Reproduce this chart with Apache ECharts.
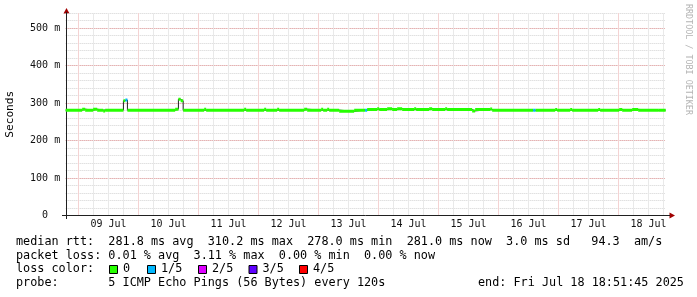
<!DOCTYPE html>
<html><head><meta charset="utf-8">
<script src="https://cdn.jsdelivr.net/npm/echarts@6/dist/echarts.min.js"></script>
<style>html,body{margin:0;padding:0;background:#fff}#c{width:697px;height:297px}</style>
</head><body><div id="c"></div>
<script>
// Time window: Jul 8 18:51:45 -> Jul 18 18:51:45 2025 (hours since Jul 8 00:00)
const START_HOUR = 18.8625;
const END_HOUR = 258.8625;
const dayLabels = ['09 Jul','10 Jul','11 Jul','12 Jul','13 Jul','14 Jul','15 Jul','16 Jul','17 Jul','18 Jul'];
const yTickLabels = ['0  ','100 m','200 m','300 m','400 m','500 m'];

// median RTT steps: start of each step (hours after window start), value (ms), lost pings (of 5)
const segStart = [0,6.6,7.8,11.0,12.6,15.0,15.8,23.1,23.9,24.7,43.8,45.1,46.0,47.0,55.4,56.2,71.4,72.2,79.4,80.2,
  84.6,85.4,95.4,96.6,102.2,103.0,104.6,105.4,109.4,115.4,119.8,120.6,124.6,125.4,128.6,130.6,132.6,134.6,139.4,140.2,
  145.4,146.6,151.8,152.6,162.6,163.8,169.8,170.6,187.0,188.0,195.8,196.6,201.8,202.6,213.0,213.8,221.4,222.6,226.6,229.0,237.0];
const segRtt = [281,283.5,281,283.5,281,278.5,281,306,308,281,283.5,310,306,281,283.5,281,283.5,281,283.5,281,
  283.5,281,283.5,281,283.5,281,283.5,281,278,281,281,282.5,285,282.5,285,282.5,285,282.5,285,282.5,
  285,282.5,285,282.5,279,282.5,284,280.5,280.5,280.5,283,280.5,283,280.5,283,280.5,283,280.5,283,280.5,281];
const segLoss = [0,0,0,0,0,0,0,0,1,0,0,0,0,0,0,0,0,0,0,0,
  0,0,0,0,0,0,0,0,0,0,1,0,0,0,0,0,0,0,0,0,
  0,0,0,0,0,0,0,0,1,0,0,0,0,0,0,0,0,0,0,0,0];

const lossColors = ['#26ff00','#00b8ff','#dd00ff','#5e00ff','#ff0000'];
const lossLabels = ['0','1/5','2/5','3/5','4/5'];

const legendLines = [
  'median rtt:  281.8 ms avg  310.2 ms max  278.0 ms min  281.0 ms now  3.0 ms sd   94.3  am/s',
  'packet loss: 0.01 % avg  3.11 % max  0.00 % min  0.00 % now',
  'loss color:',
  'probe:       5 ICMP Echo Pings (56 Bytes) every 120s'
];
const endText = 'end: Fri Jul 18 18:51:45 2025';

const toX = t => (START_HOUR + t) / 6;   // axis unit = 6 hours
const spanH = END_HOUR - START_HOUR;

const bands = segStart.map((s, i) => [toX(s), toX(i + 1 < segStart.length ? segStart[i + 1] : spanH), segRtt[i], segLoss[i]]);
const lineData = segStart.map((s, i) => [toX(s), segRtt[i]]);
lineData.push([toX(spanH), segRtt[segRtt.length - 1]]);

const MONO = '"DejaVu Sans Mono", monospace';
const grey = '#d2d2d2', red = '#e89a9a';

const chart = echarts.init(document.getElementById('c'), null, {renderer: 'canvas'});

const graphics = [];
const rowY = [241.7, 255.7, 269.3, 283.3];
legendLines.forEach((t, i) => graphics.push({type: 'text', x: 16, y: rowY[i], silent: true,
  style: {text: t, font: '11.8px ' + MONO, fill: '#000', align: 'left', verticalAlign: 'middle'}}));
graphics.push({type: 'text', x: 478, y: rowY[3], style: {text: endText, font: '11.8px ' + MONO, fill: '#000', align: 'left', verticalAlign: 'middle'}});
const swX = [109, 147, 198, 248.5, 299];
lossColors.forEach((c, i) => {
  graphics.push({type: 'rect', shape: {x: swX[i] + 0.5, y: 265.5, width: 8, height: 8}, style: {fill: c, stroke: '#000', lineWidth: 1}});
  graphics.push({type: 'text', x: swX[i] + 14, y: rowY[2], style: {text: lossLabels[i], font: '11.8px ' + MONO, fill: '#000', align: 'left', verticalAlign: 'middle'}});
});
// axis arrows and small extensions
graphics.push({type: 'polygon', shape: {points: [[66.5, 8], [63.5, 13.5], [69.5, 13.5]]}, style: {fill: '#a00000'}});
graphics.push({type: 'polygon', shape: {points: [[675, 215.5], [669.5, 212.5], [669.5, 218.5]]}, style: {fill: '#a00000'}});
graphics.push({type: 'line', shape: {x1: 665, y1: 215.5, x2: 670, y2: 215.5}, style: {stroke: '#202020', lineWidth: 1}});
graphics.push({type: 'line', shape: {x1: 62, y1: 215.5, x2: 66, y2: 215.5}, style: {stroke: '#202020', lineWidth: 1}});
graphics.push({type: 'line', shape: {x1: 66.5, y1: 215, x2: 66.5, y2: 219}, style: {stroke: '#202020', lineWidth: 1}});
graphics.push({type: 'line', shape: {x1: 66.5, y1: 12, x2: 66.5, y2: 14}, style: {stroke: '#202020', lineWidth: 1}});
graphics.push({type: 'text', x: 688.5, y: 4, rotation: -Math.PI / 2,
  style: {text: 'RRDTOOL / TOBI OETIKER', font: '8.4px ' + MONO, fill: '#b4b4b4', align: 'left', verticalAlign: 'middle'}});

chart.setOption({
  animation: false,
  backgroundColor: '#fff',
  grid: {left: 65.66, right: 31.34, top: 13, bottom: 81.5, containLabel: false, outerBoundsMode: 'none'},
  xAxis: [{
    type: 'value', min: toX(0), max: toX(spanH), splitNumber: 40, minInterval: 1, maxInterval: 1,
    axisLine: {show: true, onZero: false, lineStyle: {color: '#202020', width: 1}},
    axisTick: {show: false},
    axisLabel: {margin: 4, color: '#111', fontFamily: MONO, fontSize: 10,
      showMinLabel: true, showMaxLabel: true,
      formatter: v => (Math.abs(v - Math.round(v)) < 1e-6 && Math.round(v) % 4 === 2) ? (dayLabels[(Math.round(v) - 6) / 4] || '') : ''},
    splitLine: {show: true, showMinLine: false, showMaxLine: false,
      lineStyle: {color: '#e9e9e9', type: 'solid', width: 1}}
  }, {
    type: 'value', min: toX(0), max: toX(spanH), splitNumber: 10, minInterval: 4, maxInterval: 4,
    axisLine: {show: false}, axisTick: {show: false}, axisLabel: {show: false},
    splitLine: {show: true, showMinLine: false, showMaxLine: false,
      lineStyle: {color: '#f4d3d3', type: 'solid', width: 1}}
  }],
  yAxis: [{
    type: 'value', min: 0, max: 540, interval: 20, offset: -0.5,
    name: 'Seconds', nameLocation: 'middle', nameRotate: 90, nameGap: 51,
    nameTextStyle: {fontFamily: MONO, fontSize: 11.2, color: '#000'},
    axisLine: {show: true, lineStyle: {color: '#202020', width: 1}},
    axisTick: {show: false},
    axisLabel: {margin: 6, color: '#111', fontFamily: MONO, fontSize: 10,
      formatter: v => (v % 100 === 0) ? (yTickLabels[v / 100] || '') : ''},
    splitLine: {show: true, showMinLine: false, lineStyle: {color: grey, type: [1, 1], width: 1}}
  }, {
    type: 'value', min: 0, max: 540, interval: 100,
    axisLine: {show: false}, axisTick: {show: false}, axisLabel: {show: false},
    splitLine: {show: true, showMinLine: false, showMaxLine: false, lineStyle: {color: red, type: [1, 1], width: 1}}
  }],
  series: [{
    type: 'line', xAxisIndex: 0, yAxisIndex: 0, data: lineData, step: 'end',
    showSymbol: false, symbol: 'none', lineStyle: {color: '#202020', width: 1}, z: 3
  }, {
    type: 'custom', xAxisIndex: 0, yAxisIndex: 0, data: bands, z: 4, clip: true,
    encode: {x: [0, 1], y: 2},
    renderItem: (params, api) => {
      const p0 = api.coord([api.value(0), api.value(2)]);
      const p1 = api.coord([api.value(1), api.value(2)]);
      return {type: 'rect', shape: {x: p0[0], y: p0[1] - 1.5, width: p1[0] - p0[0], height: 3},
        style: {fill: lossColors[api.value(3)]}};
    }
  }],
  graphic: graphics
});
</script></body></html>
